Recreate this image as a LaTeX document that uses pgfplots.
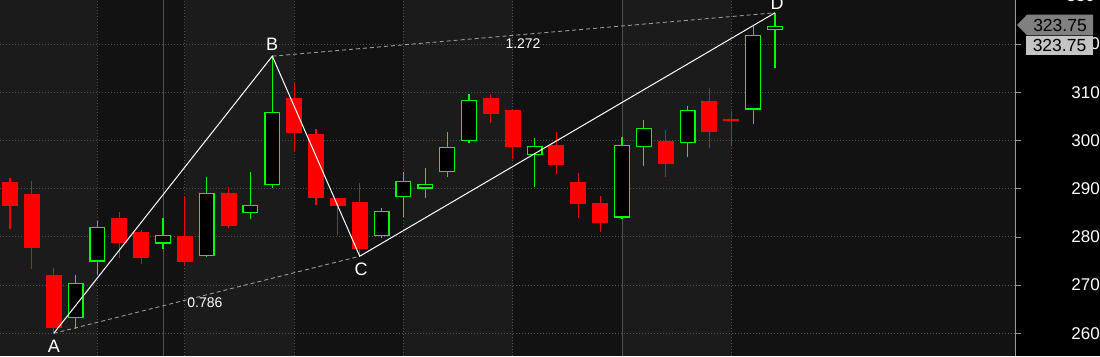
\documentclass[border=0pt]{standalone}
\usepackage{fontspec}
\setmainfont{Liberation Sans}
\usepackage{pgfplots}
\usepackage{pgfplotstable}
\pgfplotsset{compat=1.18}
\definecolor{bglight}{HTML}{1B1B1B}
\definecolor{bgdark}{HTML}{121212}
\definecolor{gridc}{HTML}{505050}
\definecolor{gridsolid}{HTML}{505050}
\definecolor{cgreen}{HTML}{00FF00}
\definecolor{cred}{HTML}{FF0000}
\definecolor{dashc}{HTML}{9A9A9A}
\definecolor{axisc}{HTML}{9A9A9A}
\definecolor{tagdark}{HTML}{808080}
\definecolor{taglight}{HTML}{C4C4C4}

% i open high low close
\pgfplotstableread{
i o h l c
3 263.1 272.0 261.0 270.5
4 274.9 283.4 272.1 282.1
7 278.6 283.9 277.5 280.5
9 276.0 292.5 275.8 289.2
11 285.0 293.4 283.7 286.7
12 290.7 317.5 290.2 306.0
17 280.1 286.1 279.7 285.4
18 288.3 293.4 284.1 291.7
19 290.0 294.4 288.1 291.0
20 293.5 301.7 292.4 298.7
21 299.9 309.7 299.4 308.4
24 297.0 300.6 290.3 298.9
28 284.0 300.8 283.7 299.1
29 298.6 304.3 294.7 302.6
31 299.5 307.2 296.5 306.4
34 306.4 323.8 303.4 321.9
35 322.9 326.5 315.0 323.75
}\upcandles

\pgfplotstableread{
i o h l c
0 291.3 292.3 281.6 286.4
1 289.0 291.7 273.4 277.8
2 272.0 273.5 260.0 261.1
5 283.9 285.1 275.6 278.7
6 281.0 281.4 274.4 275.6
8 280.1 288.4 274.1 274.8
10 289.2 290.3 281.8 282.3
13 308.9 311.9 297.9 301.5
14 301.4 302.4 286.6 288.1
15 288.0 288.0 280.3 286.5
16 287.2 291.2 276.2 277.5
22 308.9 309.7 303.6 305.4
23 306.4 306.6 296.1 298.6
25 299.0 301.7 293.0 294.9
26 291.3 293.2 283.9 286.8
27 287.0 288.5 281.0 282.9
30 300.0 302.1 292.4 295.1
32 308.1 310.8 298.4 301.7
33 304.4 306.2 299.1 304.2
}\downcandles

\pgfplotsset{
  errbar/.style 2 args={draw=none, mark=none, forget plot,
    error bars/.cd, y dir=both, y explicit, error mark=none,
    error bar style={draw=#1, line width=#2, solid}},
}

\begin{document}
\begin{tikzpicture}[x=1pt,y=1pt]
\useasboundingbox (0,0) rectangle (1100,356);
\fill[black] (0,0) rectangle (1100,356);
\begin{axis}[
  at={(0,0)}, anchor=south west,
  scale only axis, width=1015.7pt, height=356pt,
  xmin=-0.4575, xmax=46.01, ymin=255.3, ymax=329.15,
  clip=false,
  axis background/.style={fill=bgdark},
  axis line style={draw=none},
  xmajorticks=false,
  ytick={260,270,...,320},
  ytick pos=right, yticklabel pos=right,
  tick align=outside, major tick length=5pt,
  tick style={draw=axisc, line width=0.8pt},
  /pgf/number format/assume math mode=true,
  yticklabel style={text=white, font=\fontsize{17}{20}\selectfont,
    anchor=east, inner sep=0pt, xshift=79.3pt},
]
% background bands
\fill[bglight] (axis cs:-0.4575,255.3) rectangle (axis cs:4,329.15);
\fill[bglight] (axis cs:8,255.3) rectangle (axis cs:13,329.15);
\fill[bglight] (axis cs:18,255.3) rectangle (axis cs:23,329.15);
\fill[bglight] (axis cs:28,255.3) rectangle (axis cs:33,329.15);
% grid
\pgfplotsinvokeforeach{4,8,13,18,23,33}{
  \draw[gridc, line width=0.9pt, dash pattern=on 1pt off 2pt] (axis cs:#1,255.3) -- (axis cs:#1,329.15);
}
\pgfplotsinvokeforeach{7,28}{
  \draw[gridsolid, line width=1pt] (axis cs:#1,255.3) -- (axis cs:#1,329.15);
}
\pgfplotsinvokeforeach{260,270,280,290,300,310,320}{
  \draw[gridc, line width=0.9pt, dash pattern=on 1pt off 2pt] (axis cs:-0.4575,#1) -- (axis cs:46.01,#1);
}
% wicks
\addplot[errbar={cgreen}{1.2pt}] table[x=i, y expr={(\thisrow{h}+\thisrow{l})/2}, y error expr={(\thisrow{h}-\thisrow{l})/2}] {\upcandles};
\addplot[errbar={cred}{1.2pt}] table[x=i, y expr={(\thisrow{h}+\thisrow{l})/2}, y error expr={(\thisrow{h}-\thisrow{l})/2}] {\downcandles};
% bodies
\addplot[errbar={cgreen}{16pt}] table[x=i, y expr={(\thisrow{o}+\thisrow{c})/2}, y error expr={(\thisrow{c}-\thisrow{o})/2}] {\upcandles};
\addplot[errbar={black}{13.4pt}] table[x=i, y expr={(\thisrow{o}+\thisrow{c})/2}, y error expr={max(0,(\thisrow{c}-\thisrow{o})/2-0.27)}] {\upcandles};
\addplot[errbar={cred}{16pt}] table[x=i, y expr={(\thisrow{o}+\thisrow{c})/2}, y error expr={(\thisrow{o}-\thisrow{c})/2}] {\downcandles};
% pattern
\addplot[dashc, line width=0.9pt, dash pattern=on 4pt off 3pt, forget plot] coordinates {(2,260.0) (16,276.0)};
\addplot[dashc, line width=0.9pt, dash pattern=on 4pt off 3pt, forget plot] coordinates {(12,317.5) (35,326.5)};
\addplot[white, line width=1pt, forget plot] coordinates {(2,260.0) (12,317.5) (16,276.0) (35,326.5)};
\node[text=white, font=\fontsize{18}{20}\selectfont] at (axis cs:2.01,257.4) {A};
\node[text=white, font=\fontsize{18}{20}\selectfont] at (axis cs:11.99,319.9) {B};
\node[text=white, font=\fontsize{18}{20}\selectfont] at (axis cs:16.06,273.3) {C};
\node[text=white, font=\fontsize{18}{20}\selectfont] at (axis cs:35.09,328.5) {D};
\node[text=white, font=\fontsize{14}{16}\selectfont] at (axis cs:8.92,266.3) {0.786};
\node[text=white, font=\fontsize{14}{16}\selectfont] at (axis cs:23.47,320.2) {1.272};
\end{axis}
% right axis line and price tags
\draw[axisc, line width=1pt] (1015.7,0) -- (1015.7,356);
\node[anchor=east, inner sep=0pt, text=white, font=\fontsize{17}{20}\selectfont] at (1095,360.1) {330};
\fill[tagdark] (1017,331) -- (1027,341.3) -- (1093,341.3) -- (1093,320.7) -- (1027,320.7) -- cycle;
\node[text=black, font=\fontsize{17.5}{20}\selectfont] at (1060,331) {323.75};
\fill[taglight] (1026,301) rectangle (1093,320);
\node[text=black, font=\fontsize{17.5}{20}\selectfont] at (1059.5,310.5) {323.75};
\end{tikzpicture}
\end{document}
